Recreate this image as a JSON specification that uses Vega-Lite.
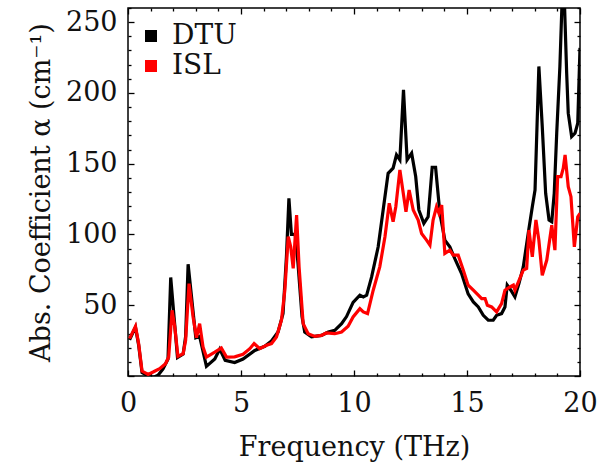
{
  "$schema": "https://vega.github.io/schema/vega-lite/v6.json",
  "autosize": {"type": "none"},
  "padding": {"left": 128, "top": 8, "right": 33, "bottom": 90},
  "width": 452,
  "height": 368,
  "config": {
    "view": {"stroke": "#000", "strokeWidth": 1.5},
    "font": "DejaVu Serif",
    "axis": {"grid": false, "domain": false, "tickColor": "#000", "tickWidth": 1.3, "labelColor": "#111", "titleColor": "#111", "labelFont": "DejaVu Serif", "titleFont": "DejaVu Serif", "labelFontSize": 27, "titleFontSize": 27, "titleFontWeight": "normal", "labelOverlap": false, "labelFlush": false}
  },
  "datasets": {
    "spectra": [
      {"f": 0.07, "a": 25.5, "s": "DTU"}, {"f": 0.33, "a": 34.5, "s": "DTU"}, {"f": 0.47, "a": 22, "s": "DTU"}, {"f": 0.62, "a": 2.5, "s": "DTU"}, {"f": 0.89, "a": 0, "s": "DTU"}, {"f": 1.11, "a": -1, "s": "DTU"}, {"f": 1.33, "a": 0.5, "s": "DTU"}, {"f": 1.55, "a": 5, "s": "DTU"}, {"f": 1.77, "a": 12, "s": "DTU"}, {"f": 1.89, "a": 69.6, "s": "DTU"}, {"f": 2.19, "a": 13, "s": "DTU"}, {"f": 2.44, "a": 15.5, "s": "DTU"}, {"f": 2.55, "a": 28, "s": "DTU"}, {"f": 2.66, "a": 79, "s": "DTU"}, {"f": 3.0, "a": 27, "s": "DTU"}, {"f": 3.17, "a": 28, "s": "DTU"}, {"f": 3.47, "a": 6.8, "s": "DTU"}, {"f": 3.84, "a": 12, "s": "DTU"}, {"f": 4.06, "a": 19, "s": "DTU"}, {"f": 4.3, "a": 11, "s": "DTU"}, {"f": 4.72, "a": 9.5, "s": "DTU"}, {"f": 5.09, "a": 12, "s": "DTU"}, {"f": 5.61, "a": 18, "s": "DTU"}, {"f": 6.05, "a": 21, "s": "DTU"}, {"f": 6.35, "a": 24.7, "s": "DTU"}, {"f": 6.64, "a": 31.1, "s": "DTU"}, {"f": 6.86, "a": 44.1, "s": "DTU"}, {"f": 7.01, "a": 84.2, "s": "DTU"}, {"f": 7.12, "a": 125.5, "s": "DTU"}, {"f": 7.23, "a": 100, "s": "DTU"}, {"f": 7.4, "a": 100, "s": "DTU"}, {"f": 7.52, "a": 80, "s": "DTU"}, {"f": 7.7, "a": 42, "s": "DTU"}, {"f": 7.82, "a": 31.1, "s": "DTU"}, {"f": 8.12, "a": 27.6, "s": "DTU"}, {"f": 8.56, "a": 28.7, "s": "DTU"}, {"f": 8.86, "a": 31.1, "s": "DTU"}, {"f": 9.15, "a": 32.3, "s": "DTU"}, {"f": 9.45, "a": 37, "s": "DTU"}, {"f": 9.67, "a": 42, "s": "DTU"}, {"f": 9.96, "a": 52, "s": "DTU"}, {"f": 10.26, "a": 57.1, "s": "DTU"}, {"f": 10.41, "a": 55.9, "s": "DTU"}, {"f": 10.56, "a": 57.1, "s": "DTU"}, {"f": 10.78, "a": 70, "s": "DTU"}, {"f": 11.07, "a": 91.3, "s": "DTU"}, {"f": 11.29, "a": 117.3, "s": "DTU"}, {"f": 11.51, "a": 143.2, "s": "DTU"}, {"f": 11.73, "a": 146.8, "s": "DTU"}, {"f": 11.88, "a": 156.2, "s": "DTU"}, {"f": 12.03, "a": 152.7, "s": "DTU"}, {"f": 12.19, "a": 202.2, "s": "DTU"}, {"f": 12.35, "a": 152.7, "s": "DTU"}, {"f": 12.55, "a": 157.4, "s": "DTU"}, {"f": 12.73, "a": 140.9, "s": "DTU"}, {"f": 12.87, "a": 117.3, "s": "DTU"}, {"f": 13.09, "a": 107.8, "s": "DTU"}, {"f": 13.28, "a": 112.5, "s": "DTU"}, {"f": 13.46, "a": 147.5, "s": "DTU"}, {"f": 13.61, "a": 147.5, "s": "DTU"}, {"f": 13.8, "a": 114.9, "s": "DTU"}, {"f": 14.02, "a": 96, "s": "DTU"}, {"f": 14.24, "a": 91.3, "s": "DTU"}, {"f": 14.47, "a": 82.5, "s": "DTU"}, {"f": 14.76, "a": 72.4, "s": "DTU"}, {"f": 15.05, "a": 58, "s": "DTU"}, {"f": 15.28, "a": 52.3, "s": "DTU"}, {"f": 15.5, "a": 48.8, "s": "DTU"}, {"f": 15.72, "a": 42.9, "s": "DTU"}, {"f": 15.94, "a": 39.4, "s": "DTU"}, {"f": 16.16, "a": 39.4, "s": "DTU"}, {"f": 16.31, "a": 42.9, "s": "DTU"}, {"f": 16.53, "a": 44.1, "s": "DTU"}, {"f": 16.68, "a": 48.8, "s": "DTU"}, {"f": 16.78, "a": 64.2, "s": "DTU"}, {"f": 16.94, "a": 60.6, "s": "DTU"}, {"f": 17.12, "a": 55.9, "s": "DTU"}, {"f": 17.3, "a": 65.4, "s": "DTU"}, {"f": 17.49, "a": 77.1, "s": "DTU"}, {"f": 17.71, "a": 100.8, "s": "DTU"}, {"f": 17.89, "a": 119.6, "s": "DTU"}, {"f": 18.01, "a": 131.4, "s": "DTU"}, {"f": 18.18, "a": 218.7, "s": "DTU"}, {"f": 18.33, "a": 176.2, "s": "DTU"}, {"f": 18.48, "a": 129.1, "s": "DTU"}, {"f": 18.63, "a": 110.2, "s": "DTU"}, {"f": 18.75, "a": 109, "s": "DTU"}, {"f": 18.86, "a": 129.1, "s": "DTU"}, {"f": 18.97, "a": 171.6, "s": "DTU"}, {"f": 19.11, "a": 218.7, "s": "DTU"}, {"f": 19.26, "a": 290, "s": "DTU"}, {"f": 19.41, "a": 214, "s": "DTU"}, {"f": 19.48, "a": 185.7, "s": "DTU"}, {"f": 19.63, "a": 169.2, "s": "DTU"}, {"f": 19.78, "a": 171.6, "s": "DTU"}, {"f": 19.9, "a": 178.6, "s": "DTU"}, {"f": 20.0, "a": 231.8, "s": "DTU"},
      {"f": 0.07, "a": 26.4, "s": "ISL"}, {"f": 0.33, "a": 35.1, "s": "ISL"}, {"f": 0.47, "a": 22.9, "s": "ISL"}, {"f": 0.62, "a": 3.5, "s": "ISL"}, {"f": 0.89, "a": 1.1, "s": "ISL"}, {"f": 1.11, "a": 2.8, "s": "ISL"}, {"f": 1.4, "a": 5.2, "s": "ISL"}, {"f": 1.66, "a": 8.7, "s": "ISL"}, {"f": 1.8, "a": 13.4, "s": "ISL"}, {"f": 1.95, "a": 46.4, "s": "ISL"}, {"f": 2.07, "a": 34.6, "s": "ISL"}, {"f": 2.21, "a": 13.9, "s": "ISL"}, {"f": 2.44, "a": 15.8, "s": "ISL"}, {"f": 2.55, "a": 25.2, "s": "ISL"}, {"f": 2.7, "a": 65.3, "s": "ISL"}, {"f": 2.88, "a": 41.7, "s": "ISL"}, {"f": 3.03, "a": 27.1, "s": "ISL"}, {"f": 3.17, "a": 37.0, "s": "ISL"}, {"f": 3.32, "a": 20.5, "s": "ISL"}, {"f": 3.47, "a": 13.4, "s": "ISL"}, {"f": 3.84, "a": 16.9, "s": "ISL"}, {"f": 4.13, "a": 19.8, "s": "ISL"}, {"f": 4.36, "a": 13.4, "s": "ISL"}, {"f": 4.72, "a": 13.5, "s": "ISL"}, {"f": 5.09, "a": 15.3, "s": "ISL"}, {"f": 5.39, "a": 19.3, "s": "ISL"}, {"f": 5.58, "a": 22.9, "s": "ISL"}, {"f": 5.83, "a": 19.3, "s": "ISL"}, {"f": 6.13, "a": 21.7, "s": "ISL"}, {"f": 6.35, "a": 22.9, "s": "ISL"}, {"f": 6.57, "a": 27.5, "s": "ISL"}, {"f": 6.79, "a": 39.4, "s": "ISL"}, {"f": 6.94, "a": 60.6, "s": "ISL"}, {"f": 7.09, "a": 98.4, "s": "ISL"}, {"f": 7.2, "a": 91.3, "s": "ISL"}, {"f": 7.31, "a": 76.0, "s": "ISL"}, {"f": 7.46, "a": 113.7, "s": "ISL"}, {"f": 7.57, "a": 77.1, "s": "ISL"}, {"f": 7.75, "a": 37, "s": "ISL"}, {"f": 7.97, "a": 29.9, "s": "ISL"}, {"f": 8.27, "a": 28.0, "s": "ISL"}, {"f": 8.56, "a": 28.7, "s": "ISL"}, {"f": 8.77, "a": 30.4, "s": "ISL"}, {"f": 9.15, "a": 29.9, "s": "ISL"}, {"f": 9.45, "a": 31.1, "s": "ISL"}, {"f": 9.74, "a": 35.1, "s": "ISL"}, {"f": 9.96, "a": 41.7, "s": "ISL"}, {"f": 10.26, "a": 47.6, "s": "ISL"}, {"f": 10.41, "a": 45.3, "s": "ISL"}, {"f": 10.6, "a": 44.1, "s": "ISL"}, {"f": 10.85, "a": 60.6, "s": "ISL"}, {"f": 11.14, "a": 77.1, "s": "ISL"}, {"f": 11.37, "a": 98.4, "s": "ISL"}, {"f": 11.56, "a": 122, "s": "ISL"}, {"f": 11.73, "a": 109, "s": "ISL"}, {"f": 11.85, "a": 119.6, "s": "ISL"}, {"f": 12.03, "a": 145.6, "s": "ISL"}, {"f": 12.18, "a": 129.1, "s": "ISL"}, {"f": 12.3, "a": 116.1, "s": "ISL"}, {"f": 12.44, "a": 131.4, "s": "ISL"}, {"f": 12.62, "a": 117.3, "s": "ISL"}, {"f": 12.84, "a": 110.2, "s": "ISL"}, {"f": 12.99, "a": 100.7, "s": "ISL"}, {"f": 13.21, "a": 96, "s": "ISL"}, {"f": 13.36, "a": 92.5, "s": "ISL"}, {"f": 13.5, "a": 110.2, "s": "ISL"}, {"f": 13.65, "a": 119.6, "s": "ISL"}, {"f": 13.76, "a": 114.9, "s": "ISL"}, {"f": 13.88, "a": 120.8, "s": "ISL"}, {"f": 14.02, "a": 86.6, "s": "ISL"}, {"f": 14.24, "a": 88.9, "s": "ISL"}, {"f": 14.39, "a": 85.4, "s": "ISL"}, {"f": 14.61, "a": 85.4, "s": "ISL"}, {"f": 14.83, "a": 75, "s": "ISL"}, {"f": 15.05, "a": 64.2, "s": "ISL"}, {"f": 15.28, "a": 60.6, "s": "ISL"}, {"f": 15.5, "a": 57.1, "s": "ISL"}, {"f": 15.65, "a": 54.7, "s": "ISL"}, {"f": 15.8, "a": 54.7, "s": "ISL"}, {"f": 15.9, "a": 50, "s": "ISL"}, {"f": 16.09, "a": 48.8, "s": "ISL"}, {"f": 16.31, "a": 45.3, "s": "ISL"}, {"f": 16.53, "a": 51.2, "s": "ISL"}, {"f": 16.68, "a": 60.6, "s": "ISL"}, {"f": 16.9, "a": 63, "s": "ISL"}, {"f": 17.05, "a": 64.2, "s": "ISL"}, {"f": 17.12, "a": 60.6, "s": "ISL"}, {"f": 17.34, "a": 68.9, "s": "ISL"}, {"f": 17.49, "a": 74.8, "s": "ISL"}, {"f": 17.64, "a": 76, "s": "ISL"}, {"f": 17.74, "a": 103.1, "s": "ISL"}, {"f": 17.89, "a": 84.2, "s": "ISL"}, {"f": 18.05, "a": 110.2, "s": "ISL"}, {"f": 18.18, "a": 96, "s": "ISL"}, {"f": 18.33, "a": 71.2, "s": "ISL"}, {"f": 18.53, "a": 81.9, "s": "ISL"}, {"f": 18.75, "a": 106.6, "s": "ISL"}, {"f": 18.89, "a": 88.9, "s": "ISL"}, {"f": 19.01, "a": 140.8, "s": "ISL"}, {"f": 19.16, "a": 140.8, "s": "ISL"}, {"f": 19.26, "a": 146.8, "s": "ISL"}, {"f": 19.34, "a": 156.2, "s": "ISL"}, {"f": 19.48, "a": 133.8, "s": "ISL"}, {"f": 19.6, "a": 126.7, "s": "ISL"}, {"f": 19.75, "a": 91.3, "s": "ISL"}, {"f": 19.9, "a": 112.5, "s": "ISL"}, {"f": 20.0, "a": 114.9, "s": "ISL"}
    ]
  },
  "data": {"name": "spectra"},
  "resolve": {"axis": {"x": "independent", "y": "independent"}},
  "encoding": {
    "color": {
      "field": "s", "type": "nominal",
      "scale": {"domain": ["DTU", "ISL"], "range": ["#000000", "#ff0000"]},
      "legend": {"title": null, "orient": "none", "legendX": 9, "legendY": 14, "padding": 0, "symbolType": "square", "symbolSize": 36, "symbolStrokeWidth": 6, "labelFont": "DejaVu Serif", "labelFontSize": 28, "labelColor": "#111", "labelOffset": 7, "rowPadding": 0, "symbolOpacity": 1}
    }
  },
  "layer": [
    {
      "transform": [{"filter": "datum.s === 'DTU'"}],
      "mark": {"type": "line", "strokeWidth": 3.2, "clip": true},
      "encoding": {
        "x": {"field": "f", "type": "quantitative", "scale": {"domain": [0, 20], "nice": false, "zero": false},
          "axis": {"orient": "bottom", "title": "Frequency (THz)", "titlePadding": 18, "values": [0, 5, 10, 15, 20],
            "ticks": false, "labelPadding": 14}},
        "y": {"field": "a", "type": "quantitative", "scale": {"domain": [0, 260], "nice": false, "zero": false},
          "axis": {"orient": "left", "title": "Abs. Coefficient α (cm⁻¹)", "titlePadding": 10, "values": [50, 100, 150, 200, 250],
            "ticks": false, "labelPadding": 11}}
      }
    },
    {
      "transform": [{"filter": "datum.s === 'ISL'"}],
      "mark": {"type": "line", "strokeWidth": 3.2, "clip": true},
      "encoding": {
        "x": {"field": "f", "type": "quantitative",
          "axis": {"orient": "top", "title": null, "labels": false, "values": [0,1,2,3,4,5,6,7,8,9,10,11,12,13,14,15,16,17,18,19,20],
            "tickSize": -6,
            "tickDash": {"condition": {"test": "datum.value % 5 !== 0", "value": [3, 10]}, "value": []}}},
        "y": {"field": "a", "type": "quantitative",
          "axis": {"orient": "right", "title": null, "labels": false, "values": [0,10,20,30,40,50,60,70,80,90,100,110,120,130,140,150,160,170,180,190,200,210,220,230,240,250,260],
            "tickSize": -6,
            "tickDash": {"condition": {"test": "datum.value % 50 !== 0", "value": [3, 10]}, "value": []}}}
      }
    },
    {
      "transform": [{"filter": "datum.s === 'DTU'"}],
      "mark": {"type": "point", "opacity": 0, "size": 0},
      "encoding": {
        "color": {"value": "transparent"},
        "x": {"field": "f", "type": "quantitative",
          "axis": {"orient": "bottom", "title": null, "labels": false, "values": [0,1,2,3,4,5,6,7,8,9,10,11,12,13,14,15,16,17,18,19,20],
            "tickSize": -6,
            "tickDash": {"condition": {"test": "datum.value % 5 !== 0", "value": [3, 10]}, "value": []}}},
        "y": {"field": "a", "type": "quantitative",
          "axis": {"orient": "left", "title": null, "labels": false, "values": [0,10,20,30,40,50,60,70,80,90,100,110,120,130,140,150,160,170,180,190,200,210,220,230,240,250,260],
            "tickSize": -6,
            "tickDash": {"condition": {"test": "datum.value % 50 !== 0", "value": [3, 10]}, "value": []}}}
      }
    }
  ]
}
